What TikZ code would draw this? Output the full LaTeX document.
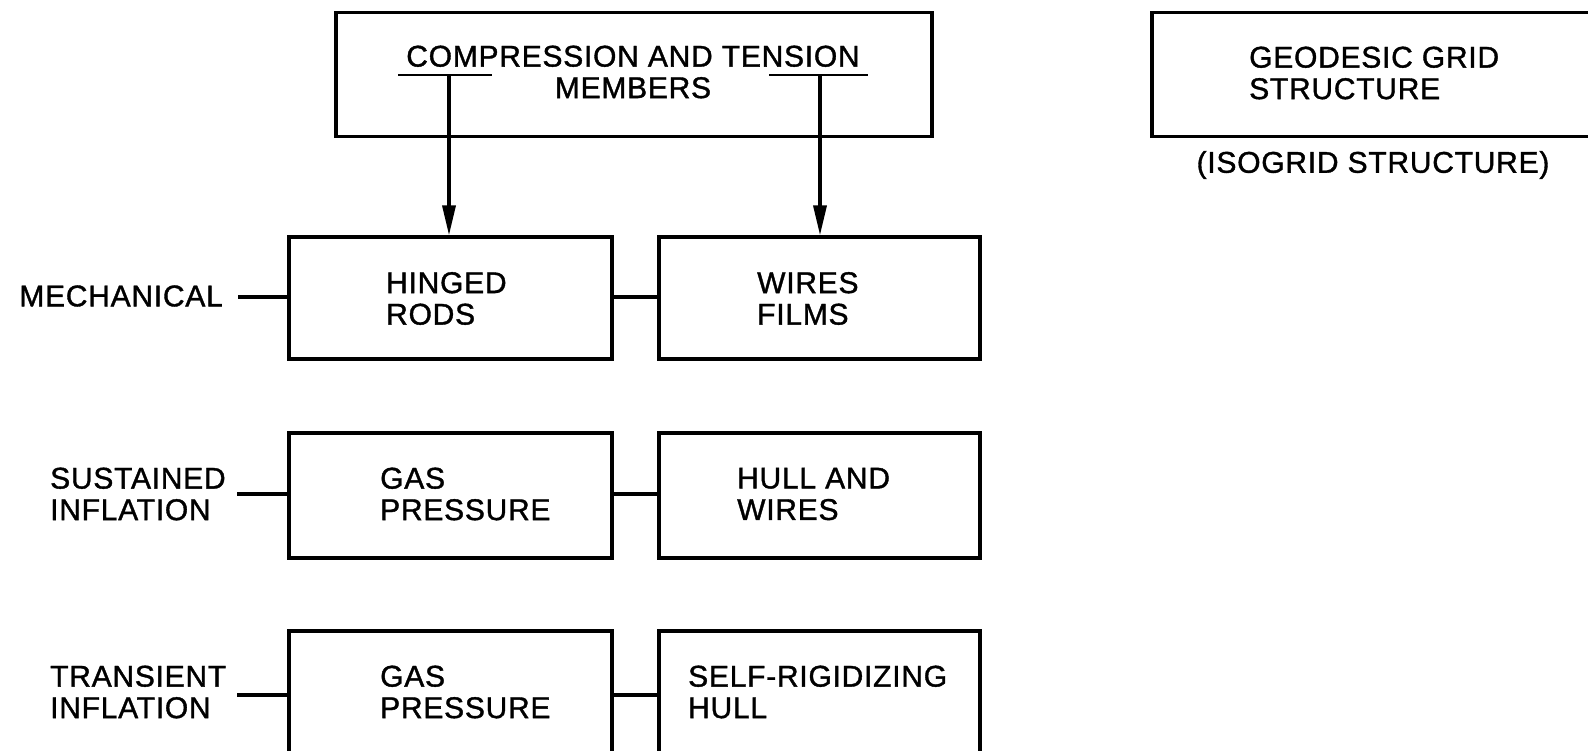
\documentclass[tikz,border=0pt]{standalone}
\usepackage{fontspec}
\setmainfont{Liberation Sans}[FakeBold=1.2,LetterSpace=2.5]
\usetikzlibrary{arrows.meta}
\begin{document}
\begin{tikzpicture}[x=1pt,y=-1pt,
 box/.style={draw, line width=3.2pt, rectangle, inner sep=0pt},
 txt/.style={font=\fontsize{30}{31.5}\selectfont, align=left, inner sep=0pt},
 ctxt/.style={font=\fontsize{30}{31.5}\selectfont, align=center, inner sep=0pt},
 link/.style={line width=3.2pt},
 arr/.style={line width=3.4pt, -{Triangle[length=30pt,width=13pt]}}]
\useasboundingbox (0,0) rectangle (1588,751);
\clip (0,0) rectangle (1588,751);
% top boxes
\node[box, minimum width=596pt, minimum height=124pt] (top) at (634,74.5) {};
\node[ctxt] (toptxt) at (633,72) {COMPRESSION AND TENSION\\MEMBERS};
\node[box, minimum width=548pt, minimum height=124pt] (geo) at (1426,74.5) {};
\node[txt, anchor=west] (geotxt) at (1249,73) {GEODESIC GRID\\STRUCTURE};
\node[ctxt] (iso) at (1373,165) {(ISOGRID STRUCTURE)};
% row 1
\node[box, minimum width=323pt, minimum height=122pt] (r1a) at (450.5,298) {};
\node[box, minimum width=321pt, minimum height=122pt] (r1b) at (819.5,298) {};
\node[txt, anchor=west] (r1atxt) at (386,298.5) {HINGED\\RODS};
\node[txt, anchor=west] (r1btxt) at (757,298.5) {WIRES\\FILMS};
\node[txt, anchor=east] (mech) at (223,296) {MECHANICAL};
% row 2
\node[box, minimum width=323pt, minimum height=125pt] (r2a) at (450.5,495.5) {};
\node[box, minimum width=321pt, minimum height=125pt] (r2b) at (819.5,495.5) {};
\node[txt, anchor=west] (r2atxt) at (380,494) {GAS\\PRESSURE};
\node[txt, anchor=west] (r2btxt) at (737,494) {HULL AND\\WIRES};
\node[txt, anchor=west] (sust) at (50,494) {SUSTAINED\\INFLATION};
% row 3
\node[box, minimum width=323pt, minimum height=169pt] (r3a) at (450.5,715.5) {};
\node[box, minimum width=321pt, minimum height=169pt] (r3b) at (819.5,715.5) {};
\node[txt, anchor=west] (r3atxt) at (380,692) {GAS\\PRESSURE};
\node[txt, anchor=west] (r3btxt) at (688,692) {SELF-RIGIDIZING\\HULL};
\node[txt, anchor=west] (trans) at (50,692) {TRANSIENT\\INFLATION};
% underlines and arrows
\coordinate (ulL1) at (398,75);
\coordinate (ulL2) at (492,75);
\coordinate (ulR1) at (769,75);
\coordinate (ulR2) at (868,75);
\coordinate (aL) at (449,75);
\coordinate (aR) at (820,75);
\draw[link, line width=2.4pt] (ulL1) -- (ulL2);
\draw[link, line width=2.4pt] (ulR1) -- (ulR2);
\draw[arr] (aL) -- (aL |- r1a.north);
\draw[arr] (aR) -- (aR |- r1b.north);
% connectors
\coordinate (m0) at (238,297);
\coordinate (s0) at (237,494);
\coordinate (t0) at (237,695);
\draw[link] (m0) -- (m0 -| r1a.west);
\draw[link] (s0) -- (s0 -| r2a.west);
\draw[link] (t0) -- (t0 -| r3a.west);
\draw[link] (r1a.east |- m0) -- (r1b.west |- m0);
\draw[link] (r2a.east |- s0) -- (r2b.west |- s0);
\draw[link] (r3a.east |- t0) -- (r3b.west |- t0);
\end{tikzpicture}
\end{document}
